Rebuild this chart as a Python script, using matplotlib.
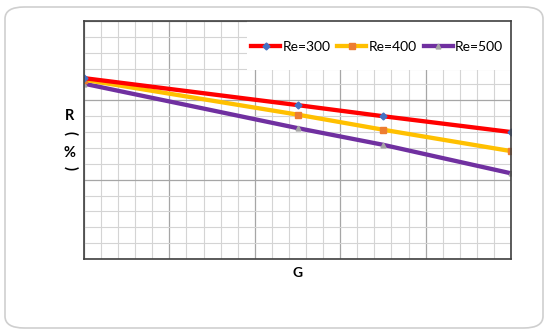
import numpy as np
import matplotlib.pyplot as plt
from matplotlib.patches import FancyBboxPatch, Rectangle
from matplotlib.ticker import MultipleLocator

plt.rcParams['font.family'] = ['Lato', 'DejaVu Sans']

# Dữ liệu
G = [0, 2.5, 3.5, 5]
labels = ['Re=300', 'Re=400', 'Re=500']
R300 = [2.28, 1.94, 1.80, 1.60]
R400 = [2.26, 1.82, 1.63, 1.36]
R500 = [2.21, 1.65, 1.44, 1.08]

fig = plt.figure(figsize=(5.5, 3.35), dpi=100)

# Khung bo tròn bên ngoài
W, H = 550, 335
box = FancyBboxPatch((5 / W, 7 / H), 538 / W, 321 / H,
                     boxstyle="round,pad=0,rounding_size=0.035",
                     transform=fig.transFigure, facecolor='none',
                     edgecolor='#cfcfcf', linewidth=1.2, zorder=-1)
fig.patches.append(box)

ax = fig.add_axes([84 / W, 1 - 259 / H, 427 / W, 238 / H])
ax.set_facecolor('white')

ax.plot(G, R300, color='#ff0000', lw=3.1, marker='D', ms=3.5,
        mfc='#4472c4', mec='#4472c4', label=labels[0], zorder=5)
ax.plot(G, R400, color='#ffc000', lw=3.1, marker='s', ms=4,
        mfc='#ed7d31', mec='#ed7d31', label=labels[1], zorder=4)
ax.plot(G, R500, color='#7030a0', lw=3.1, marker='^', ms=3.5,
        mfc='#a5a5a5', mec='#a5a5a5', label=labels[2], zorder=3)

ax.set_xlim(0, 5)
ax.set_ylim(0, 3)
ax.xaxis.set_major_locator(MultipleLocator(1))
ax.xaxis.set_minor_locator(MultipleLocator(0.2))
ax.yaxis.set_major_locator(MultipleLocator(1))
ax.yaxis.set_minor_locator(MultipleLocator(0.2))
ax.grid(which='major', color='#a6a6a6', lw=0.9)
ax.grid(which='minor', color='#d4d4d4', lw=0.8)
ax.set_axisbelow(True)
ax.tick_params(which='both', length=0, labelbottom=False, labelleft=False)
for s in ax.spines.values():
    s.set_color('#404040')
    s.set_linewidth(1.2)
    s.set_zorder(9)

# Nền trắng của chú giải
ax.add_patch(Rectangle((163 / 427, 189 / 238), 1 - 163 / 427, 1 - 189 / 238,
                       transform=ax.transAxes, facecolor='white',
                       edgecolor='none', zorder=8))
leg = ax.legend(loc='center right', bbox_to_anchor=(1 - 8 / 427, 212 / 238),
                ncol=3, fontsize=10, frameon=False, handlelength=2.1,
                handletextpad=0.15, columnspacing=0.5, borderpad=0,
                borderaxespad=0)
leg.set_zorder(10)

# Nhãn trục
ax.text(0.5, -0.035, 'G', transform=ax.transAxes, ha='center', va='top',
        fontsize=10, fontweight='bold')
for ch, yp, rot in [('R', 116, 0), ('(', 133, 270), ('%', 153, 0), (')', 168, 270)]:
    fig.text(70 / W, 1 - yp / H, ch, ha='center', va='center',
             fontsize=10.5, fontweight='bold', rotation=rot)

fig.savefig('out.png', dpi=100)
